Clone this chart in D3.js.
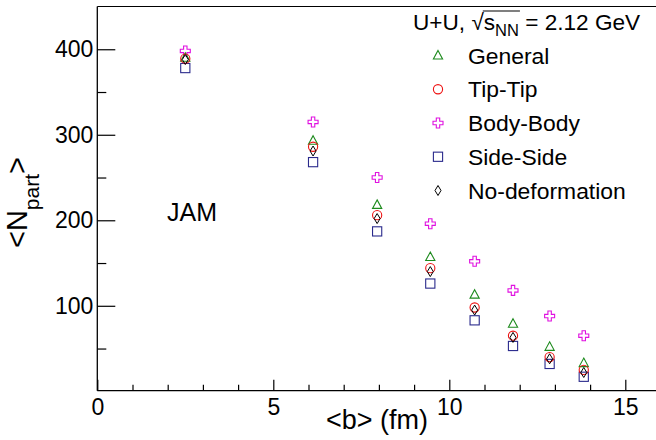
<!DOCTYPE html>
<html>
<head>
<meta charset="utf-8">
<script src="https://cdn.jsdelivr.net/npm/d3@7"></script>
<style>
  body { margin: 0; background: white; }
  svg { display: block; font-family: "Liberation Sans", Arial, sans-serif; }
</style>
</head>
<body>
<script>
// impact parameter <b> (fm) for each centrality bin
var bValues = [2.5, 6.13, 7.95, 9.46, 10.72, 11.81, 12.85, 13.82];

// <Npart> for each configuration
var general  = [390, 293, 218, 157, 113, 79, 52, 33];
var tipTip   = [389, 286, 206, 144, 98, 65, 40, 25];
var bodyBody = [398, 315, 250, 196, 152, 118, 88, 65];
var sideSide = [378, 268, 187, 126, 83, 53, 32, 17];
var noDef    = [388, 281, 202, 140, 95, 63, 38, 22];

var seriesNames = ["General", "Tip-Tip", "Body-Body", "Side-Side", "No-deformation"];
var xMajorTicks = [0, 5, 10, 15];
var yMajorTicks = [100, 200, 300, 400];

var W = 656, H = 440;
var x = d3.scaleLinear().domain([0, 16]).range([97.3, 97.3 + 16 * 35.2]);
var y = d3.scaleLinear().domain([0.7, 450]).range([390.7, 6.5]);

var svg = d3.select("body").append("svg")
    .attr("width", W)
    .attr("height", H);

// frame lines (top + left), plot continues past right edge
svg.append("line")
    .attr("x1", x(0)).attr("x2", W)
    .attr("y1", y(450)).attr("y2", y(450))
    .attr("stroke", "#000").attr("stroke-width", 1.2);

// x axis: major + minor ticks pointing inward
var xAxis = svg.append("g")
    .attr("transform", "translate(0," + y(0.7) + ")")
    .call(d3.axisBottom(x).tickValues(xMajorTicks).tickSize(-11).tickPadding(8).tickFormat(d3.format("d")));
xAxis.select(".domain").remove();
xAxis.selectAll("text").style("font-size", "23px").attr("fill", "#000");

var xMinor = d3.range(1, 16).filter(function(d) { return d % 5 !== 0; });
var xAxisMinor = svg.append("g")
    .attr("transform", "translate(0," + y(0.7) + ")")
    .call(d3.axisBottom(x).tickValues(xMinor).tickSize(-6).tickFormat(""));
xAxisMinor.select(".domain").remove();

svg.append("line")
    .attr("x1", x(0)).attr("x2", W)
    .attr("y1", y(0.7)).attr("y2", y(0.7))
    .attr("stroke", "#000").attr("stroke-width", 1.3);

// y axis
var yAxis = svg.append("g")
    .attr("transform", "translate(" + x(0) + ",0)")
    .call(d3.axisLeft(y).tickValues(yMajorTicks).tickSize(-18).tickPadding(4));
yAxis.select(".domain").remove();
yAxis.selectAll("text").style("font-size", "23px").attr("fill", "#000");

var yAxisMinor = svg.append("g")
    .attr("transform", "translate(" + x(0) + ",0)")
    .call(d3.axisLeft(y).tickValues([50, 150, 250, 350]).tickSize(-9).tickFormat(""));
yAxisMinor.select(".domain").remove();

svg.append("line")
    .attr("x1", x(0)).attr("x2", x(0))
    .attr("y1", y(450)).attr("y2", y(0.7))
    .attr("stroke", "#000").attr("stroke-width", 1.3);

svg.selectAll(".tick line").attr("stroke", "#000").attr("stroke-width", 1.2);

// axis titles
svg.append("text")
    .attr("x", 428).attr("y", 429)
    .attr("text-anchor", "end")
    .style("font-size", "27px")
    .text("<b> (fm)");

var yTitle = svg.append("text")
    .attr("text-anchor", "end")
    .attr("transform", "translate(27,157)rotate(-90)")
    .style("font-size", "29px");
yTitle.append("tspan").text("<N");
yTitle.append("tspan").attr("dy", 12).style("font-size", "21px").text("part");
yTitle.append("tspan").attr("dy", -12).text(">");

svg.append("text")
    .attr("x", 167).attr("y", 221)
    .style("font-size", "25px")
    .text("JAM");

// marker shapes
var markers = {
  triangle: function(g, color) {
    g.append("path").attr("d", "M0,-5L4.6,3.5L-4.6,3.5Z")
      .attr("fill", "none").attr("stroke", color).attr("stroke-width", 1.1);
  },
  circle: function(g, color) {
    g.append("circle").attr("r", 4.6)
      .attr("fill", "none").attr("stroke", color).attr("stroke-width", 1.1);
  },
  cross: function(g, color) {
    var a = 1.7, b = 5;
    g.append("path")
      .attr("d", "M" + (-a) + "," + (-b) + "L" + a + "," + (-b) + "L" + a + "," + (-a) + "L" + b + "," + (-a) +
                 "L" + b + "," + a + "L" + a + "," + a + "L" + a + "," + b + "L" + (-a) + "," + b +
                 "L" + (-a) + "," + a + "L" + (-b) + "," + a + "L" + (-b) + "," + (-a) + "L" + (-a) + "," + (-a) + "Z")
      .attr("fill", "none").attr("stroke", color).attr("stroke-width", 1.1);
  },
  square: function(g, color) {
    g.append("rect").attr("x", -4.6).attr("y", -4.6).attr("width", 9.2).attr("height", 9.2)
      .attr("fill", "none").attr("stroke", color).attr("stroke-width", 1.1);
  },
  diamond: function(g, color) {
    g.append("path").attr("d", "M0,-5L3,0L0,5L-3,0Z")
      .attr("fill", "none").attr("stroke", color).attr("stroke-width", 1);
  }
};

var series = [
  {name: seriesNames[0], values: general,  shape: "triangle", color: "#1c8a1c"},
  {name: seriesNames[1], values: tipTip,   shape: "circle",   color: "#ee1111"},
  {name: seriesNames[2], values: bodyBody, shape: "cross",    color: "#e010e0"},
  {name: seriesNames[3], values: sideSide, shape: "square",   color: "#2a2a8c"},
  {name: seriesNames[4], values: noDef,    shape: "diamond",  color: "#000000"}
];

// draw order: side-side first, body-body, general, tip-tip, no-deformation on top
var drawOrder = [3, 2, 0, 1, 4];
drawOrder.forEach(function(i) {
  var s = series[i];
  svg.append("g").selectAll("g")
      .data(s.values)
    .enter().append("g")
      .attr("transform", function(d, j) { return "translate(" + x(bValues[j]) + "," + y(d) + ")"; })
      .each(function() { markers[s.shape](d3.select(this), s.color); });
});

// legend
var legend = svg.append("g");
var header = legend.append("text")
    .attr("x", 413).attr("y", 30)
    .style("font-size", "22.6px");
header.append("tspan").text("U+U, ");
header.append("tspan").attr("class", "sq").text("\u221A");
header.append("tspan").attr("class", "s").text("s");
header.append("tspan").attr("dy", 6).style("font-size", "16.5px").text("NN");
header.append("tspan").attr("dy", -6).text(" = 2.12 GeV");

// overline of the square root
var sBox = header.select(".sq").node();
var sqEnd = sBox.getStartPositionOfChar(0).x + sBox.getComputedTextLength();
var nnNode = header.selectAll("tspan").nodes()[3];
var nnEnd = nnNode.getStartPositionOfChar(0).x + nnNode.getComputedTextLength();
legend.append("line")
    .attr("x1", sqEnd - 1).attr("x2", nnEnd + 1)
    .attr("y1", 11).attr("y2", 11)
    .attr("stroke", "#000").attr("stroke-width", 1.2);

var rowY = d3.scaleLinear().domain([0, 4]).range([55.5, 190.5]);
series.forEach(function(s, i) {
  var row = legend.append("g").attr("transform", "translate(0," + rowY(i) + ")");
  markers[s.shape](row.append("g").attr("transform", "translate(438,0)"), s.color);
  row.append("text")
    .attr("x", 468).attr("y", 8)
    .style("font-size", "22.9px")
    .text(s.name);
});
</script>
</body>
</html>
